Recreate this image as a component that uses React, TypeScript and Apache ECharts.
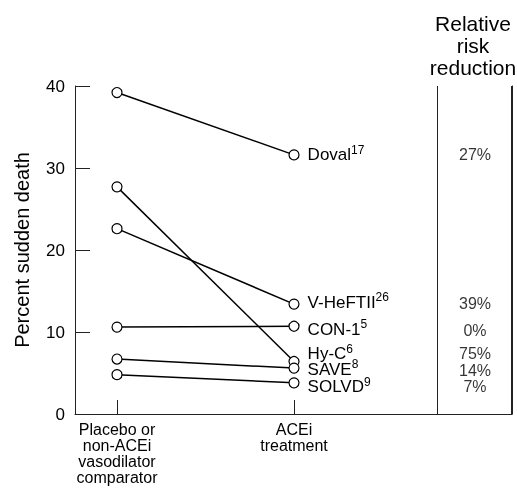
import React, { useEffect, useRef } from "react";
import * as echarts from "echarts";

// ---- data ----
const categories = ["Placebo or\nnon-ACEi\nvasodilator\ncomparator", "ACEi\ntreatment"];
const studies = ["Doval", "V-HeFTII", "CON-1", "Hy-C", "SAVE", "SOLVD"];
const refs = ["17", "26", "5", "6", "8", "9"];
const placebo = [39.2, 22.6, 10.6, 27.7, 6.7, 4.8];
const acei = [31.6, 13.4, 10.7, 6.4, 5.6, 3.8];
const rrr = ["27%", "39%", "0%", "75%", "14%", "7%"];
const yMin = 0;
const yMax = 40;
const yStep = 10;

// ---- layout (not data) ----
const X_MIN = -0.2373;
const X_MAX = 2.2316;
const X_SEP = 1.8136;
const X_EDGE = 2.2276;
const X_PANEL = 2.0226;
const labelOffsets = [0, -2, 3, -8, 1, 4];
const pctOffsets = [0, -1, 4, -8, 2, 4];
const FONT = "'Liberation Sans', Arial, Helvetica, sans-serif";
const INK = "#000";

export default function App() {
  const ref = useRef<HTMLDivElement>(null);
  useEffect(() => {
    document.body.style.margin = "0";
    const chart = echarts.init(ref.current!, null, { renderer: "svg" });
    const lineSeries = studies.map((name, i) => ({
      type: "line",
      name,
      data: [
        [0, placebo[i]],
        {
          value: [1, acei[i]],
          label: {
            show: true,
            position: "right",
            distance: 8,
            offset: [0, labelOffsets[i]],
            formatter: `{n|${name}}{s|${refs[i]}}`,
            rich: {
              n: { fontSize: 17, lineHeight: 22, color: INK, fontFamily: FONT },
              s: { fontSize: 12, lineHeight: 12, verticalAlign: "top", color: INK, fontFamily: FONT },
            },
          },
        },
      ],
      symbol: "circle",
      symbolSize: 10,
      itemStyle: { color: "#fff", borderColor: INK, borderWidth: 1.2 },
      lineStyle: { color: INK, width: 1.5 },
      z: 3,
    }));
    const pctSeries = {
      type: "scatter",
      clip: false,
      data: rrr.map((t, i) => ({
        value: [X_PANEL, acei[i]],
        label: {
          show: true,
          position: "inside",
          offset: [0, pctOffsets[i]],
          formatter: t,
          fontSize: 16,
          lineHeight: 15,
          color: INK,
          fontFamily: FONT,
        },
      })),
      symbolSize: 1,
      itemStyle: { color: "transparent" },
      markLine: {
        silent: true,
        symbol: "none",
        label: { show: false },
        lineStyle: { color: "#222", width: 1, type: "solid" },
        data: [{ xAxis: X_SEP }, { xAxis: X_EDGE }],
      },
    };
    chart.setOption({
      animation: false,
      grid: { left: 75, right: 5, top: 86, bottom: 79 },
      xAxis: {
        type: "value",
        min: X_MIN,
        max: X_MAX,
        splitLine: { show: false },
        axisLine: { show: true, onZero: false, lineStyle: { color: "#222", width: 1 } },
        axisTick: { show: true, inside: true, length: 14, customValues: [0, 1], lineStyle: { color: "#222" } },
        axisLabel: {
          show: true,
          customValues: [0, 1],
          formatter: (v: number) => categories[Math.round(v)] ?? "",
          fontSize: 16,
          lineHeight: 16,
          color: INK,
          fontFamily: FONT,
          margin: 7,
        },
      },
      yAxis: [
        {
          type: "value",
          min: yMin,
          max: yMax,
          interval: yStep,
          name: "Percent sudden death",
          nameLocation: "middle",
          nameGap: 43,
          nameTextStyle: { fontSize: 20, color: INK, fontFamily: FONT },
          splitLine: { show: false },
          axisLine: { show: true, onZero: false, lineStyle: { color: "#222", width: 1 } },
          axisTick: { show: true, inside: true, length: 15, lineStyle: { color: "#222" } },
          axisLabel: { fontSize: 17, color: INK, fontFamily: FONT, margin: 10 },
        },
        {
          type: "value",
          min: yMin,
          max: yMax,
          interval: yStep,
          position: "right",
          splitLine: { show: false },
          axisLine: { show: true, onZero: false, lineStyle: { color: "#222", width: 1 } },
          axisTick: { show: false },
          axisLabel: { show: false },
        },
      ],
      graphic: [
        {
          type: "text",
          x: 473,
          y: 12,
          style: {
            text: "Relative\nrisk\nreduction",
            textAlign: "center",
            fontSize: 21,
            lineHeight: 22,
            fill: INK,
            fontFamily: FONT,
          },
        },
      ],
      series: [...lineSeries, pctSeries],
    });
    return () => chart.dispose();
  }, []);
  return <div ref={ref} style={{ position: "fixed", left: 0, top: 0, width: 517, height: 493 }} />;
}
